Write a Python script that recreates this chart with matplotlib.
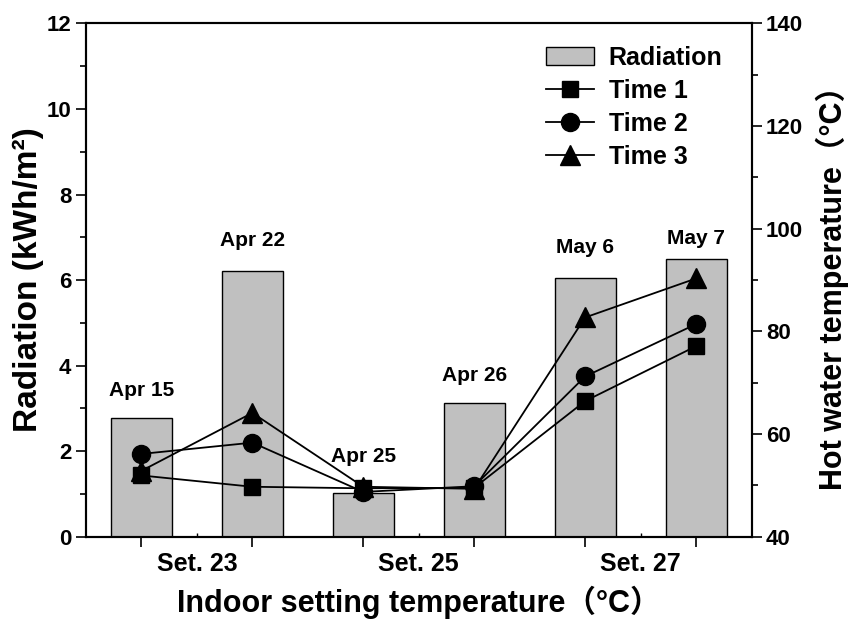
import numpy as np
import matplotlib
matplotlib.use("Agg")
import matplotlib.pyplot as plt
from matplotlib.patches import Patch
from matplotlib.lines import Line2D

plt.rcParams['font.family'] = ['Liberation Sans', 'DejaVu Sans']
plt.rcParams['font.weight'] = 'bold'
cjk = ['Liberation Sans', 'Noto Sans CJK SC', 'DejaVu Sans']

# daily data per test day
days = ["Apr 15", "Apr 22", "Apr 25", "Apr 26", "May 6", "May 7"]
radiation = [2.77, 6.22, 1.01, 3.12, 6.04, 6.49]          # kWh/m2
time1 = [51.9, 49.7, 49.4, 49.5, 66.4, 77.1]              # hot water temp, C
time2 = [56.1, 58.3, 48.7, 49.8, 71.2, 81.4]
time3 = [52.8, 64.1, 49.7, 49.3, 82.7, 90.3]
setpoints = ["Set. 23", "Set. 25", "Set. 27"]

# vertical gap (pixels) between bar top and its date label
label_gap = [28, 30, 37, 28, 31, 21]

x = np.arange(1, len(days) + 1)

fig = plt.figure(figsize=(8.57, 6.23), dpi=100)
ax = fig.add_axes([0.1003, 0.1388, 0.7766, 0.8235])
ax2 = ax.twinx()

ax.bar(x, radiation, width=0.55, color='#c0c0c0', edgecolor='black', linewidth=1.0, zorder=2)
ax.set_xlim(0.5, 6.5)
ax.set_ylim(0, 12)
ax.set_yticks(np.arange(0, 13, 2))
ax.set_yticks(np.arange(1, 12, 2), minor=True)

for xi, r, d, g in zip(x, radiation, days, label_gap):
    ax.annotate(d, (xi, r), xytext=(0, g * 0.72), textcoords='offset points',
                ha='center', va='center', fontsize=15, fontweight='bold')

lw = 1.3
ax2.plot(x, time1, '-s', color='black', lw=lw, ms=12, label='Time 1')
ax2.plot(x, time2, '-o', color='black', lw=lw, ms=13, label='Time 2')
ax2.plot(x, time3, '-^', color='black', lw=lw, ms=14, label='Time 3')
ax2.set_ylim(40, 140)
ax2.set_yticks(np.arange(40, 141, 20))
ax2.set_yticks(np.arange(50, 140, 20), minor=True)

# x axis: ticks under each bar, set-point labels between pairs of bars
ax.set_xticks(x)
ax.set_xticklabels([])
ax.set_xticks([1.5, 3.5, 5.5], minor=True)
ax.set_xticklabels(setpoints, minor=True)
ax.tick_params(axis='x', which='major', direction='out', length=7, width=1.2)
ax.tick_params(axis='x', which='minor', direction='in', length=3, width=1.0,
               labelsize=18, pad=11)

for a in (ax, ax2):
    for s in a.spines.values():
        s.set_linewidth(1.5)
    a.tick_params(axis='y', which='major', direction='out', length=7, width=1.2, labelsize=16)
    a.tick_params(axis='y', which='minor', direction='out', length=4, width=1.2)

ax.set_xlabel('Indoor setting temperature（°C）', fontsize=22, fontweight='bold',
              family=cjk, labelpad=7)
ax.set_ylabel('Radiation (kWh/m²)', fontsize=24, fontweight='bold', labelpad=2)
ax2.set_ylabel('Hot water temperature（°C）', fontsize=22, fontweight='bold',
               family=cjk, labelpad=9)

handles = [Patch(facecolor='#c0c0c0', edgecolor='black', linewidth=1.0, label='Radiation'),
           Line2D([], [], color='black', lw=lw, marker='s', ms=12, label='Time 1'),
           Line2D([], [], color='black', lw=lw, marker='o', ms=13, label='Time 2'),
           Line2D([], [], color='black', lw=lw, marker='^', ms=14, label='Time 3')]
ax2.legend(handles=handles, loc='upper right', bbox_to_anchor=(0.99, 1.0), frameon=False,
           fontsize=18, handlelength=1.9, labelspacing=0.36, handletextpad=0.6)

fig.savefig('out.png', dpi=100)
